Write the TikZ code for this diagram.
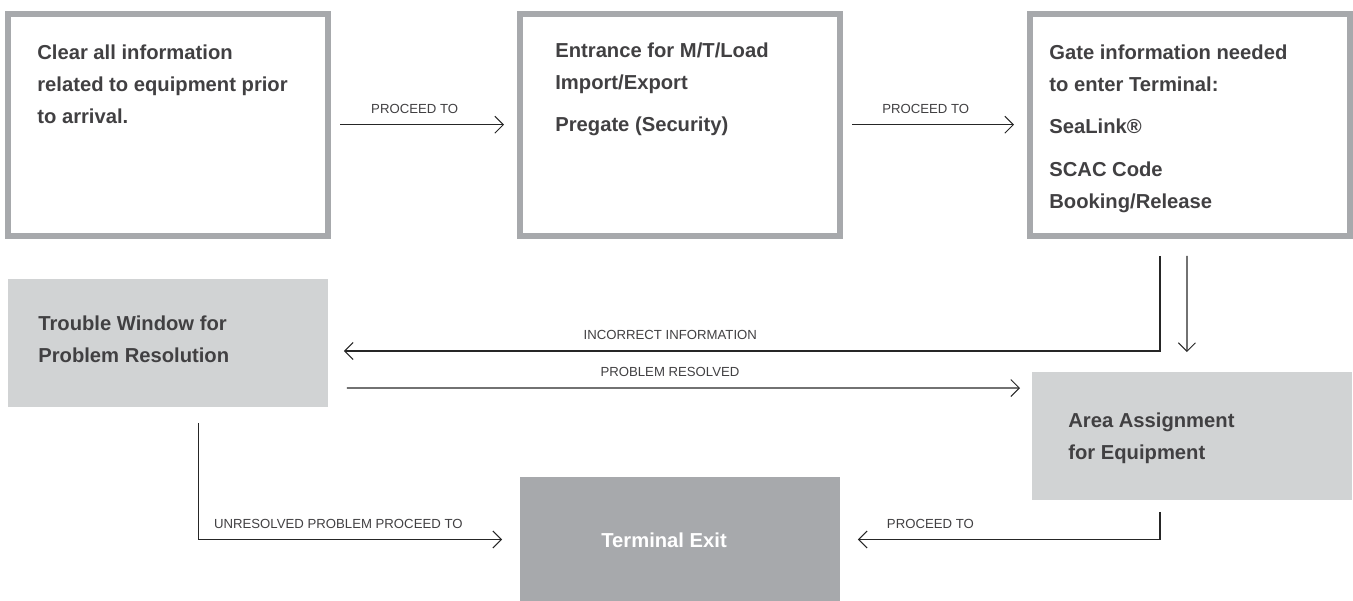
\documentclass[tikz,border=0pt]{standalone}
\usepackage{fontspec}
\setmainfont{Liberation Sans}
\usetikzlibrary{arrows.meta}

\definecolor{framegray}{HTML}{A7A9AC}
\definecolor{panelgray}{HTML}{D1D3D4}
\definecolor{exitgray}{HTML}{A7A9AC}
\definecolor{inkgray}{HTML}{414042}

\tikzset{
    frame/.style={draw=framegray, line width=0.12cm, minimum width=6.4cm, minimum height=4.45cm, anchor=north west, inner sep=0pt},
    panel/.style={fill=panelgray, minimum width=6.4cm, minimum height=2.56cm, anchor=north west, inner sep=0pt, outer sep=0pt},
    boxtext/.style={anchor=north west, inner sep=0pt, align=left, text=inkgray, font=\fontsize{11.5}{18.2}\selectfont\bfseries},
    flow/.style={draw=black!85, line width=0.6pt, -{Straight Barb[length=0.17cm, width=0.34cm]}},
    lbl/.style={text=inkgray, font=\fontsize{7.5}{9}\selectfont, inner sep=0pt},
}

\begin{document}
\begin{tikzpicture}[x=0.02cm, y=-0.02cm]
        \useasboundingbox (0, 0) rectangle (1353, 600);

        % top row
        \node[frame] (clear) at (5, 10.5) {};
        \node[frame] (entry) at (517, 10.5) {};
        \node[frame] (gate) at (1027, 10.5) {};
        \node[boxtext] (cleartxt) at ([shift={(32, 34)}]clear.north west) {Clear all information\\related to equipment prior\\to arrival.};
        \node[boxtext] (entrytxt) at ([shift={(38, 32)}]entry.north west) {Entrance for M/T/Load\\Import/Export\\[6pt]Pregate (Security)};
        \node[boxtext] (gatetxt) at ([shift={(22, 34)}]gate.north west) {Gate information needed\\to enter Terminal:\\[6pt]SeaLink®\\[6pt]SCAC Code\\Booking/Release};

        % lower boxes
        \node[panel] (trouble) at (8, 279) {};
        \node[panel] (area) at (1032, 372) {};
        \node[panel, fill=exitgray, minimum height=2.5cm] (exit) at (520, 477) {};
        \node[boxtext] (troubletxt) at ([shift={(30, 36.5)}]trouble.north west) {Trouble Window for\\Problem Resolution};
        \node[boxtext] (areatxt) at ([shift={(36, 40.5)}]area.north west) {Area Assignment\\for Equipment};
        \node[boxtext, text=white] (exittxt) at ([shift={(81, 55.5)}]exit.north west) {Terminal Exit};

        \draw[flow, shorten <=0.19cm, shorten >=0.26cm] (clear) -- node[lbl, above=6pt, pos=0.45] {PROCEED TO} (entry);
        \draw[flow, shorten <=0.19cm, shorten >=0.26cm] (entry) -- node[lbl, above=6pt, pos=0.45] {PROCEED TO} (gate);
        \draw[flow] ([shift={(-30, 17)}]gate.south) |- node[lbl, above=6pt, pos=0.8] {INCORRECT INFORMATION} ([shift={(16, 8)}]trouble.east);
        \draw[flow] ([shift={(-3, 17)}]gate.south) -- ([shift={(-5, -20)}]area.north);
        \draw[flow] ([shift={(19, 45)}]trouble.east) -- node[lbl, above=6pt, pos=0.48] {PROBLEM RESOLVED} ([shift={(-12, 16)}]area.north west);
        \draw[flow] ([shift={(31, 16)}]trouble.south) |- node[lbl, above=6pt, pos=0.73] {UNRESOLVED PROBLEM PROCEED TO} ([shift={(-18, 0)}]exit.west);
        \draw[flow] ([shift={(-32, 12)}]area.south) |- node[lbl, above=6pt, pos=0.88] {PROCEED TO} ([shift={(18, 0)}]exit.east);
    \end{tikzpicture}
\end{document}
